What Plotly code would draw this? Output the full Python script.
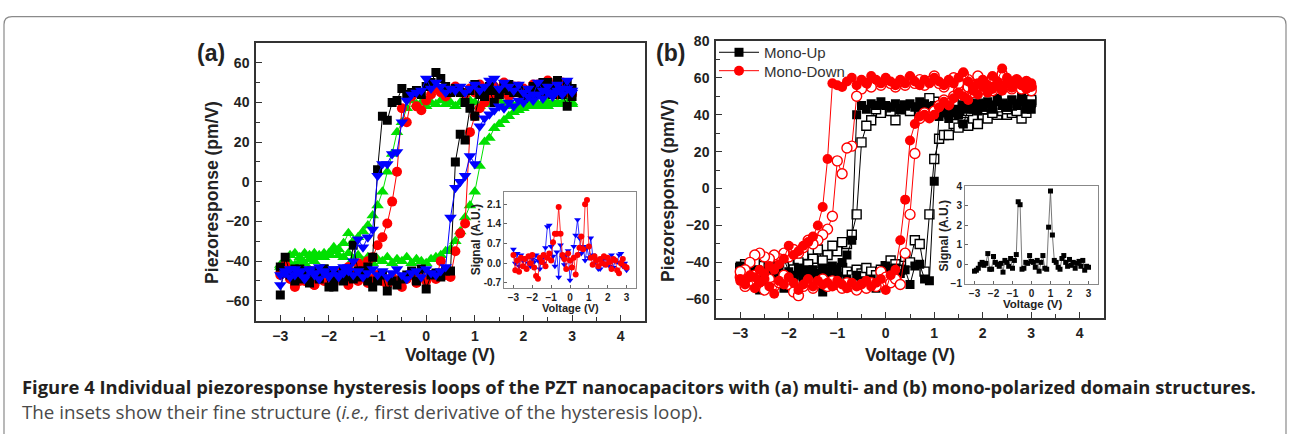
import plotly.graph_objects as go

W, H = 1290, 438

# ---------------- data ----------------
V_UP = [-3.0, -2.9, -2.8, -2.7, -2.6, -2.5, -2.4, -2.3, -2.2, -2.1,
        -2.0, -1.9, -1.8, -1.7, -1.6, -1.5, -1.4, -1.3, -1.2, -1.1,
        -1.0, -0.9, -0.8, -0.7, -0.6, -0.5, -0.4, -0.3, -0.2, -0.1,
        0.0, 0.1, 0.2, 0.3, 0.4, 0.5, 0.6, 0.7, 0.8, 0.9,
        1.0, 1.1, 1.2, 1.3, 1.4, 1.5, 1.6, 1.7, 1.8, 1.9,
        2.0, 2.1, 2.2, 2.3, 2.4, 2.5, 2.6, 2.7, 2.8, 2.9,
        3.0]
V_DOWN = V_UP[::-1]

# panel (a): ascending sweep (-3 -> 3) and descending sweep (3 -> -3)
A_BLACK_UP = [-57, -38, -46, -50, -44, -47, -51, -45, -48, -44,
              -53, -53, -47, -50, -46, -49, -48, -45, -50, -53,
              -50, -47, -55, -50, -52, -49, -47, -45, -50, -44,
              -54, -47, -46, -48, -45, -45, 10, 24, 21, 37,
              33, 44, 43, 46, 40, 44, 49, 46, 48, 45,
              42, 46, 44, 48, 50, 45, 47, 51, 44, 38,
              43]
A_BLACK_DOWN = [47, 50, 46, 49, 44, 50, 47, 45, 48, 46,
                44, 48, 45, 49, 47, 44, 46, 48, 45, 47,
                49, 46, 40, 45, 47, 45, 48, 52, 55, 50,
                48, 44, 46, 45, 44, 47, 41, 40, 31, 33,
                6, -38, -43, -46, -45, -32, -48, -45, -47, -50,
                -46, -44, -49, -46, -47, -45, -49, -44, -47, -46,
                -43]
A_RED_UP = [-46, -42, -49, -52, -47, -50, -45, -52, -48, -50,
            -47, -51, -48, -49, -52, -47, -50, -48, -51, -49,
            -47, -50, -52, -48, -50, -53, -49, -47, -51, -48,
            -50, -47, -49, -40, -47, -48, -35, -26, -21, 25,
            33, 37, 40, 43, 41, 44, 46, 43, 48, 45,
            47, 44, 46, 49, 45, 50, 47, 44, 48, 45,
            46]
A_RED_DOWN = [44, 47, 50, 46, 48, 51, 45, 47, 49, 44,
              46, 48, 45, 47, 50, 46, 48, 45, 47, 49,
              45, 47, 44, 46, 48, 45, 43, 45, 47, 44,
              41, 36, 38, 43, 30, 37, 5, -10, -21, -28,
              -32, -38, -40, -44, -41, -46, -43, -48, -45, -50,
              -47, -49, -45, -52, -48, -46, -50, -53, -48, -44,
              -47]
A_GREEN_UP = [-43, -40, -37, -36, -38, -36, -37, -36, -38, -36,
              -37, -35, -37, -38, -36, -39, -37, -40, -38, -41,
              -39, -40, -38, -41, -39, -40, -38, -41, -39, -40,
              -41, -39, -38, -37, -35, -34, -30, -25, -18, -12,
              -5, 8, 20, 22, 27, 29, 31, 33, 35, 36,
              37, 38, 39, 38, 39, 40, 39, 40, 39, 40,
              39]
A_GREEN_DOWN = [40, 39, 40, 39, 40, 38, 40, 39, 40, 41,
                39, 40, 38, 40, 39, 41, 40, 39, 40, 38,
                40, 41, 39, 40, 38, 40, 39, 41, 39, 40,
                38, 40, 39, 41, 37, 30, 25, 14, 5, -5,
                -12, -17, -22, -25, -28, -30, -26, -31, -34, -33,
                -36, -38, -37, -40, -39, -41, -40, -42, -41, -43,
                -42]
A_BLUE_UP = [-52, -46, -44, -47, -45, -48, -44, -46, -49, -45,
             -47, -44, -48, -46, -43, -47, -45, -48, -46, -44,
             -47, -45, -48, -46, -44, -47, -49, -46, -45, -48,
             -44, -46, -47, -45, -43, -18, -3, 0, 3, 13,
             9, 28, 32, 34, 36, 38, 37, 40, 38, 41,
             40, 43, 41, 44, 42, 45, 43, 46, 44, 47,
             45]
A_BLUE_DOWN = [46, 51, 47, 49, 45, 48, 46, 50, 44, 47,
               45, 49, 46, 48, 50, 47, 52, 51, 48, 46,
               49, 47, 45, 48, 46, 47, 45, 48, 50, 47,
               52, 46, 45, 44, 41, 30, 15, 14, 9, 9,
               3, -24, -28, -33, -29, -40, -45, -43, -47, -44,
               -48, -46, -43, -47, -45, -49, -46, -44, -48, -45,
               -47]

# panel (b)
B_UPF_UP = [-43, -47, -45, -50, -55, -48, -53, -46, -50, -54,
            -47, -52, -45, -49, -44, -48, -51, -56, -47, -50,
            -48, -52, -49, -51, -47, -50, -53, -49, -54, -46,
            -42, -44, -43, -46, -44, -52, -42, -41, -49, -50,
            4, 39, 41, 38, 42, 40, 35, 43, 45, 42,
            44, 46, 43, 47, 45, 44, 48, 46, 50, 45,
            43]
B_UPF_DOWN = [46, 43, 47, 45, 48, 44, 46, 49, 45, 47,
              44, 46, 43, 47, 45, 43, 41, 40, 44, 42,
              45, 43, 46, 47, 44, 46, 45, 43, 46, 44,
              45, 47, 45, 46, 43, 45, 40, -28, -36, -40,
              -44, -42, -45, -43, -46, -44, -47, -45, -43, -47,
              -45, -38, -44, -47, -45, -48, -46, -44, -47, -45,
              -42]
B_UPO_UP = [-45, -41, -43, -47, -44, -42, -46, -43, -45, -41,
            -44, -47, -43, -46, -44, -48, -45, -43, -47, -44,
            -46, -43, -45, -47, -44, -46, -43, -45, -47, -44,
            -42, -39, -41, -44, -37, -40, -28, -30, -45, -14,
            16, 27, 29, 29, 35, 33, 36, 34, 38, 35,
            40, 38, 41, 40, 42, 40, 41, 43, 38, 41,
            47]
B_UPO_DOWN = [48, 44, 46, 42, 45, 43, 46, 44, 41, 45,
              43, 46, 44, 42, 45, 43, 46, 44, 42, 45,
              47, 49, 43, 41, 44, 42, 45, 43, 37, 42,
              44, 41, 43, 37, 34, 25, -14, -25, -30, -29,
              -34, -31, -36, -39, -33, -38, -41, -36, -40, -43,
              -39, -42, -40, -44, -41, -45, -42, -40, -44, -46,
              -43]
B_DNF_UP = [-50, -52, -48, -54, -51, -49, -53, -57, -50, -52,
            -48, -51, -55, -52, -49, -53, -50, -52, -51, -53,
            -50, -52, -54, -51, -53, -52, -50, -53, -51, -49,
            -55, -47, -44, -28, -6, 26, 35, 39, 40, 38,
            40, 44, 47, 45, 49, 52, 50, 48, 53, 51,
            55, 52, 54, 56, 53, 57, 55, 58, 56, 54,
            57]
B_DNF_DOWN = [55, 58, 56, 59, 57, 60, 65, 58, 61, 56,
              59, 57, 55, 58, 63, 60, 57, 59, 56, 58,
              60, 57, 59, 56, 58, 61, 57, 59, 56, 58,
              60, 57, 59, 61, 57, 59, 56, 60, 58, 55,
              56, 57, 16, -10, -20, -26, -29, -31, -34, -36,
              -31, -38, -41, -44, -42, -46, -44, -48, -47, -50,
              -49]
B_DNO_UP = [-48, -53, -50, -47, -52, -55, -49, -53, -51, -47,
            -52, -56, -58, -53, -50, -54, -51, -49, -53, -50,
            -52, -54, -51, -53, -55, -52, -54, -51, -53, -45,
            -48, -51, -49, -52, -35, -14, 19, 38, 41, 39,
            42, 45, 48, 46, 50, 53, 51, 55, 52, 57,
            54, 56, 53, 58, 55, 57, 54, 59, 56, 58,
            55]
B_DNO_DOWN = [53, 57, 54, 58, 55, 59, 62, 57, 60, 55,
              58, 61, 56, 59, 62, 57, 60, 58, 55, 57,
              61, 58, 56, 59, 57, 60, 56, 58, 55, 57,
              59, 56, 58, 55, 57, 54, 50, 23, 22, 8,
              15, -15, -22, -25, -28, -30, -28, -32, -35, -33,
              -37, -35, -38, -36, -38, -37, -35, -36, -40, -44,
              -45]

# insets (first derivative), sampled at V_UP
INSET_A_RED = [0.3, -0.25, 0.1, -0.3, 0.2, -0.1, 0.15, -0.2, 0.25, 0.0,
               0.3, -0.15, -0.45, -0.55, 0.2, 0.05, 0.3, -0.1, 0.2, 0.35,
               0.1, 0.75, 1.05, 1.05, 2.0, 1.05, 0.3, 0.15, -0.2, 0.35,
               0.1, -0.15, 0.2, -0.4, 0.3, 0.55, 0.95, 0.5, 2.1, 2.25,
               0.6, 0.2, -0.05, 0.25, 0.1, -0.1, 0.15, 0.0, 0.25, -0.05,
               0.2, 0.05, -0.2, 0.15, 0.1, -0.25, -0.35, 0.0, 0.15, -0.1,
               -0.15]
INSET_A_BLUE = [0.5, 0.0, 0.35, -0.1, 0.3, 0.1, -0.15, 0.2, 0.0, -0.1,
                0.15, 0.05, 0.3, 0.1, -0.2, 0.15, 0.0, 0.55, 1.3, 1.35,
                0.6, 0.25, -0.1, 0.4, -0.5, 0.65, 0.2, -0.05, 0.3, 0.45,
                -0.6, -0.15, 0.6, 1.0, 1.55, 0.9, 0.35, 0.6, 0.1, 0.55,
                0.2, 0.9, 0.3, 0.0, 0.15, -0.2, -0.2, 0.1, -0.05, 0.2,
                0.0, -0.1, 0.3, -0.15, 0.1, 0.05, 0.3, 0.35, -0.1, 0.0,
                -0.25]
INSET_B = [-0.35, -0.3, -0.2, 0.0, 0.1, -0.05, 0.05, 0.55, -0.25, -0.25,
           0.4, 0.1, 0.0, -0.1, 0.05, -0.4, 0.2, 0.1, -0.1, 0.3,
           -0.2, 0.2, 0.5, 3.2, 3.05, -0.25, -0.2, 0.1, 0.05, 0.45,
           0.15, 0.1, -0.15, 0.2, -0.35, 0.1, 0.45, -0.2, -0.25, 1.9,
           3.75, 1.5, 0.2, 0.1, -0.15, -0.25, 0.3, 0.45, 0.1, -0.1,
           0.25, -0.05, 0.1, -0.2, 0.05, 0.15, -0.1, 0.2, -0.3, -0.1,
           -0.15]

INSET_A_YTICKS = [-0.7, 0.0, 0.7, 1.4, 2.1]
INSET_A_YLABELS = ["-0.7", "0.0", "0.7", "1.4", "2.1"]

for arr in [A_BLACK_UP, A_BLACK_DOWN, A_RED_UP, A_RED_DOWN, A_GREEN_UP, A_GREEN_DOWN,
            A_BLUE_UP, A_BLUE_DOWN, B_UPF_UP, B_UPF_DOWN, B_UPO_UP, B_UPO_DOWN,
            B_DNF_UP, B_DNF_DOWN, B_DNO_UP, B_DNO_DOWN, INSET_A_RED, INSET_A_BLUE, INSET_B]:
    assert len(arr) == 61, len(arr)

# ---------------- helpers ----------------
def px(x):
    return x / W

def py(y):
    return 1 - y / H

RED = "#ff0000"
BLACK = "#000000"
GREEN = "#00e000"
BLUE = "#0000ff"
FONT = "Liberation Sans"

fig = go.Figure()

def loop(up, down, color, symbol, size, xa, ya, name=None, legend=None, hollow=False):
    if hollow:
        marker = dict(symbol=symbol, size=size, color="white", line=dict(color=color, width=1.4))
    else:
        marker = dict(symbol=symbol, size=size, color=color, line=dict(width=0))
    kw = dict(showlegend=False)
    if legend:
        kw = dict(showlegend=True, legend=legend)
    fig.add_trace(go.Scatter(
        x=V_UP + V_DOWN, y=up + down, mode="lines+markers",
        xaxis=xa, yaxis=ya, line=dict(color=color, width=1),
        marker=marker, name=name, hoverinfo="skip", **kw))

# panel (a)
loop(A_GREEN_UP, A_GREEN_DOWN, GREEN, "triangle-up", 11, "x", "y")
loop(A_RED_UP, A_RED_DOWN, RED, "circle", 10, "x", "y")
loop(A_BLACK_UP, A_BLACK_DOWN, BLACK, "square", 9, "x", "y")
loop(A_BLUE_UP, A_BLUE_DOWN, BLUE, "triangle-down", 11, "x", "y")

# panel (b)
loop(B_UPO_UP, B_UPO_DOWN, BLACK, "square", 9, "x3", "y3", hollow=True)
loop(B_UPF_UP, B_UPF_DOWN, BLACK, "square", 9, "x3", "y3", name="Mono-Up", legend="legend")
loop(B_DNO_UP, B_DNO_DOWN, RED, "circle", 10, "x3", "y3", hollow=True)
loop(B_DNF_UP, B_DNF_DOWN, RED, "circle", 10, "x3", "y3", name="Mono-Down", legend="legend2")

# insets
fig.add_trace(go.Scatter(x=V_UP, y=INSET_A_BLUE, mode="lines+markers", xaxis="x2", yaxis="y2",
                         line=dict(color=BLUE, width=0.8),
                         marker=dict(symbol="triangle-down", size=6, color=BLUE),
                         showlegend=False, hoverinfo="skip"))
fig.add_trace(go.Scatter(x=V_UP, y=INSET_A_RED, mode="lines+markers", xaxis="x2", yaxis="y2",
                         line=dict(color=RED, width=0.8),
                         marker=dict(symbol="circle", size=6, color=RED),
                         showlegend=False, hoverinfo="skip"))
fig.add_trace(go.Scatter(x=V_UP, y=INSET_B, mode="lines+markers", xaxis="x4", yaxis="y4",
                         line=dict(color="#555555", width=0.8),
                         marker=dict(symbol="square", size=5, color=BLACK),
                         showlegend=False, hoverinfo="skip"))

# ---------------- axes ----------------
tick_font_main = dict(family=FONT, size=14, color="#222", weight="bold")
tick_font_inset = dict(family=FONT, size=10, color="#222", weight="bold")

def main_axis(domain, rng, dtick, minor_dtick, anchor):
    return dict(domain=domain, range=rng, anchor=anchor, dtick=dtick, tick0=0,
                showline=True, linecolor="#333", linewidth=1.5, mirror=True,
                ticks="inside", ticklen=6, tickwidth=1.3, tickcolor="#333",
                minor=dict(ticks="inside", ticklen=4, tickwidth=1.1, tickcolor="#333",
                           dtick=minor_dtick, showgrid=False),
                showgrid=False, zeroline=False, tickfont=tick_font_main, ticklabelstandoff=2)

def inset_axis(domain, rng, anchor, **kw):
    d = dict(domain=domain, range=rng, anchor=anchor,
             showline=True, linecolor="#888", linewidth=1, mirror=True,
             ticks="inside", ticklen=3, tickwidth=1, tickcolor="#666",
             showgrid=False, zeroline=False, tickfont=tick_font_inset, ticklabelstandoff=0)
    d.update(kw)
    return d

fig.update_layout(
    xaxis=main_axis([px(256), px(645)], [-3.5, 4.5], 1, 0.5, "y"),
    yaxis=main_axis([py(323), py(36)], [-70, 70], 20, 10, "x"),
    xaxis3=main_axis([px(716), px(1104)], [-3.5, 4.5], 1, 0.5, "y3"),
    yaxis3=main_axis([py(320), py(34)], [-70, 80], 20, 10, "x3"),
    xaxis2=inset_axis([px(504), px(636)], [-3.5, 3.5], "y2", dtick=1, tick0=0),
    yaxis2=inset_axis([py(289), py(190)], [-0.87, 2.54], "x2",
                      tickvals=INSET_A_YTICKS, ticktext=INSET_A_YLABELS),
    xaxis4=inset_axis([px(965), px(1098)], [-3.5, 3.5], "y4", dtick=1, tick0=0),
    yaxis4=inset_axis([py(285), py(184)], [-1, 4], "x4", dtick=1, tick0=0),
)

# ---------------- text ----------------
ann = []

def text(x, y, s, size, bold=True, angle=0, color="#222", family=FONT, xanchor="center"):
    ann.append(dict(x=px(x), y=py(y), xref="paper", yref="paper", text=s, showarrow=False,
                    textangle=angle, xanchor=xanchor, yanchor="middle",
                    font=dict(family=family, size=size, color=color,
                              weight="bold" if bold else "normal")))

text(211, 47, "(a)", 23)
text(670, 47, "(b)", 23)
text(212, 191, "Piezoresponse (pm/V)", 17.5, angle=-90)
text(668, 189, "Piezoresponse (pm/V)", 17.5, angle=-90)
text(450, 358, "Voltage (V)", 17.5)
text(910, 358, "Voltage (V)", 17.5)
text(476, 240, "Signal (A.U.)", 12, angle=-90)
text(570, 310, "Voltage (V)", 11)
text(944, 236, "Signal (A.U.)", 12, angle=-90)
text(1032, 306, "Voltage (V)", 11.5)

CAPTION_1 = ("Figure 4 Individual piezoresponse hysteresis loops of the PZT nanocapacitors "
             "with (a) multi- and (b) mono-polarized domain structures.")
CAPTION_2 = "The insets show their fine structure (<i>i.e.,</i> first derivative of the hysteresis loop)."
text(20, 391, CAPTION_1, 18.4, bold=True, color="#231f20", family="Open Sans", xanchor="left")
text(20, 417, CAPTION_2, 18.8, bold=False, color="#4a4a4a", family="Open Sans", xanchor="left")

# rounded border of the figure panel
x0, x1, yt, yb = px(4), px(1286), py(9), py(440)
rx, ry = 8 / W, 8 / H
border = (f"M {x0},{yb} L {x0},{yt - ry} Q {x0},{yt} {x0 + rx},{yt} "
          f"L {x1 - rx},{yt} Q {x1},{yt} {x1},{yt - ry} L {x1},{yb}")

legend_common = dict(xanchor="left", yanchor="middle", bgcolor="rgba(0,0,0,0)", borderwidth=0,
                     font=dict(family=FONT, size=15, color="#333"), itemwidth=40,
                     tracegroupgap=0)

fig.update_layout(
    width=W, height=H, margin=dict(l=0, r=0, t=0, b=0),
    paper_bgcolor="white", plot_bgcolor="rgba(0,0,0,0)",
    annotations=ann,
    shapes=[dict(type="path", path=border, xref="paper", yref="paper",
                 line=dict(color="#8a8a8a", width=1.2), layer="below")],
    legend=dict(x=px(714), y=py(46), **legend_common),
    legend2=dict(x=px(714), y=py(65), **legend_common),
    hovermode=False,
)

fig.write_html("out.html")
